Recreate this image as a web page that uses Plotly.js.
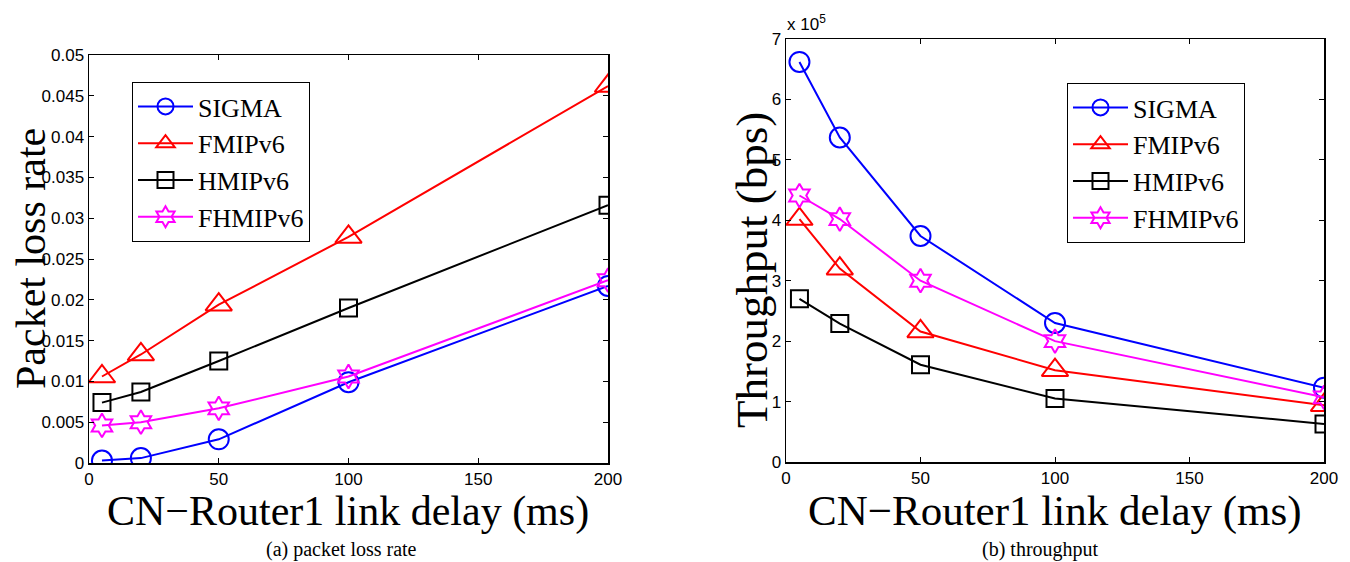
<!DOCTYPE html>
<html>
<head>
<meta charset="utf-8">
<script src="https://cdn.plot.ly/plotly-3.0.1.min.js"></script>
<style>html,body{margin:0;padding:0;background:#fff;}#chart{width:1350px;height:562px;}</style>
</head>
<body>
<div id="chart"></div>
<script>
// ---- data ----
const delay = [5, 20, 50, 100, 200];
const seriesNames = ["SIGMA", "FMIPv6", "HMIPv6", "FHMIPv6"];
const lossSIGMA   = [0.0003, 0.0006, 0.0029, 0.0099, 0.0217];
const lossFMIPv6  = [0.0106, 0.0133, 0.0194, 0.0277, 0.0462];
const lossHMIPv6  = [0.0074, 0.0087, 0.0125, 0.0190, 0.0316];
const lossFHMIPv6 = [0.0046, 0.0050, 0.0067, 0.0106, 0.0224];
const thrSIGMA   = [662000, 537000, 374000, 230000, 123000];
const thrFMIPv6  = [402000, 320000, 216000, 152000, 94000];
const thrHMIPv6  = [270000, 229000, 161000, 105000, 63000];
const thrFHMIPv6 = [441000, 402000, 300000, 200000, 107000];
const thrTickVals = [0, 100000, 200000, 300000, 400000, 500000, 600000, 700000];
const thrTickText = ["0", "1", "2", "3", "4", "5", "6", "7"];
const xTitle = "CN\u2212Router1 link delay (ms)";

const colors = ["#0000ff", "#ff0000", "#000000", "#ff00ff"];
const symbols = ["circle-open", "triangle-up-open", "square-open", "hexagram-open"];
const sizes = [20, 23, 17, 18];

const lossData = [lossSIGMA, lossFMIPv6, lossHMIPv6, lossFHMIPv6];
const thrData = [thrSIGMA, thrFMIPv6, thrHMIPv6, thrFHMIPv6];

const traces = [];
lossData.forEach((ys, i) => {
  traces.push({
    x: delay, y: ys, name: seriesNames[i], type: "scatter", mode: "lines+markers",
    xaxis: "x", yaxis: "y", legend: "legend",
    line: {color: colors[i], width: 2},
    marker: {symbol: symbols[i], size: sizes[i], color: colors[i], line: {color: colors[i], width: 2}}
  });
});
thrData.forEach((ys, i) => {
  traces.push({
    x: delay, y: ys, name: seriesNames[i], type: "scatter", mode: "lines+markers",
    xaxis: "x2", yaxis: "y2", legend: "legend2",
    line: {color: colors[i], width: 2},
    marker: {symbol: symbols[i], size: sizes[i], color: colors[i], line: {color: colors[i], width: 2}}
  });
});

const tickFont = {family: "Liberation Sans, Arial, sans-serif", size: 17, color: "#000"};
const serif = "Liberation Serif, Times New Roman, serif";

function axisBase() {
  return {
    showline: true, linecolor: "#000", linewidth: 1.5, mirror: "ticks",
    ticks: "inside", ticklen: 5, tickwidth: 1, tickcolor: "#000",
    showgrid: false, zeroline: false, tickfont: tickFont
  };
}

function legendBox(x, y) {
  return {
    x: x, y: y, xanchor: "left", yanchor: "top",
    bgcolor: "#fff", bordercolor: "#000", borderwidth: 1,
    font: {family: serif, size: 26, color: "#000"}, tracegroupgap: 0,
    itemwidth: 55
  };
}

function titleAnn(text, xpx, ypx, size, angle) {
  return {text: text, xref: "paper", yref: "paper", x: xpx/1350, y: 1 - ypx/562,
          xanchor: "center", yanchor: "middle", textangle: angle, showarrow: false,
          font: {family: serif, size: size, color: "#000"}};
}

const layout = {
  width: 1350, height: 562,
  margin: {l: 0, r: 0, t: 0, b: 0},
  paper_bgcolor: "#fff", plot_bgcolor: "#fff",
  showlegend: true,
  xaxis: Object.assign(axisBase(), {
    domain: [89/1350, 608/1350], range: [0, 200], tickvals: [0, 50, 100, 150, 200]
  }),
  yaxis: Object.assign(axisBase(), {
    domain: [1 - 463/562, 1 - 55/562], range: [0, 0.05], dtick: 0.005, tick0: 0
  }),
  xaxis2: Object.assign(axisBase(), {
    anchor: "y2",
    domain: [786/1350, 1324/1350], range: [0, 200], tickvals: [0, 50, 100, 150, 200]
  }),
  yaxis2: Object.assign(axisBase(), {
    anchor: "x2",
    domain: [1 - 462/562, 1 - 39/562], range: [0, 700000],
    tickvals: thrTickVals, ticktext: thrTickText
  }),
  legend: legendBox(132/1350, 1 - 82/562),
  legend2: legendBox(1067/1350, 1 - 83/562),
  annotations: [
    titleAnn(xTitle, 348, 511, 42, 0),
    titleAnn(xTitle, 1055, 511, 43, 0),
    titleAnn("Packet loss rate", 31, 259, 42, -90),
    titleAnn("Throughput (bps)", 752, 270, 45, -90),
    {text: "x 10<sup>5</sup>", xref: "paper", yref: "paper", x: 785/1350, y: 1 - 36/562,
     xanchor: "left", yanchor: "bottom", showarrow: false,
     font: tickFont},
    titleAnn("(a) packet loss rate", 341, 549, 20, 0),
    titleAnn("(b) throughput", 1040, 549, 20, 0)
  ]
};

Plotly.newPlot("chart", traces, layout, {displayModeBar: false, staticPlot: true});
</script>
</body>
</html>
